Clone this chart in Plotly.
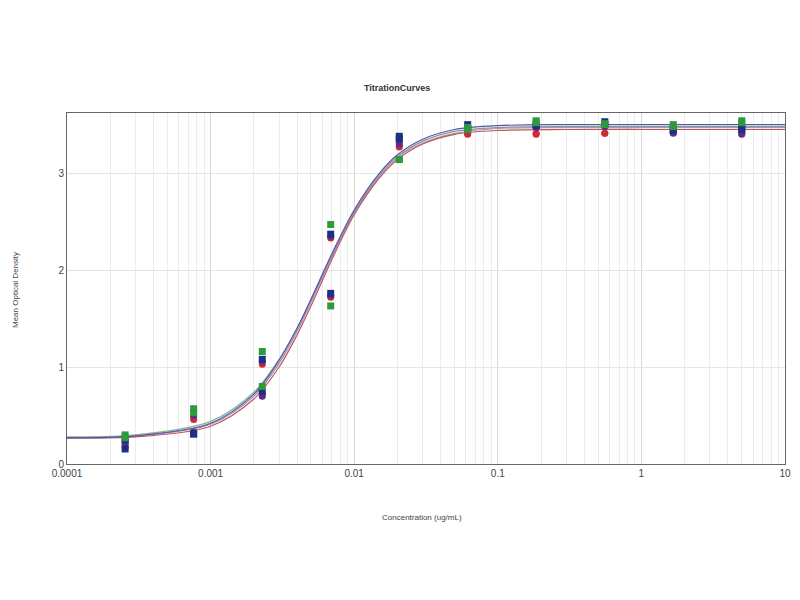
import plotly.graph_objects as go

# Concentrations (ug/mL)
conc = [0.000254, 0.000762, 0.00229, 0.00686, 0.0206, 0.0617, 0.185, 0.556, 1.667, 5.0]

# Observed points (two replicates per series)
red_a = [0.24, 0.46, 1.03, 2.33, 3.28, 3.40, 3.40, 3.41, 3.43, 3.43]
red_b = [0.20, 0.48, 0.72, 1.72, 3.27, 3.41, 3.41, 3.41, 3.42, 3.41]
purple_a = [0.22, 0.50, 1.06, 2.35, 3.33, 3.47, 3.48, 3.50, 3.41, 3.40]
purple_b = [0.17, 0.33, 0.70, 1.74, 3.30, 3.45, 3.47, 3.48, 3.42, 3.42]
navy_a = [0.25, 0.31, 1.08, 2.37, 3.38, 3.50, 3.50, 3.53, 3.46, 3.47]
navy_b = [0.155, 0.31, 0.75, 1.76, 3.35, 3.46, 3.49, 3.50, 3.44, 3.45]
green_a = [0.30, 0.57, 1.16, 2.47, 3.14, 3.47, 3.54, 3.51, 3.50, 3.54]
green_b = [0.27, 0.53, 0.80, 1.63, 3.14, 3.45, 3.52, 3.50, 3.48, 3.52]

# Fitted curves
fit_x = [0.0001, 0.0003, 0.001, 0.002, 0.003, 0.004, 0.005, 0.007, 0.01,
         0.015, 0.02, 0.03, 0.05, 0.1, 0.3, 1, 10]
fit_blue = [0.27, 0.29, 0.42, 0.72, 1.07, 1.40, 1.70, 2.17, 2.62, 3.00, 3.19, 3.35, 3.45, 3.49, 3.50, 3.50, 3.50]
fit_purple = [0.27, 0.29, 0.41, 0.70, 1.04, 1.37, 1.67, 2.14, 2.60, 2.98, 3.17, 3.33, 3.43, 3.47, 3.48, 3.48, 3.48]
fit_red = [0.27, 0.28, 0.39, 0.67, 1.00, 1.33, 1.63, 2.11, 2.57, 2.95, 3.14, 3.30, 3.40, 3.44, 3.45, 3.45, 3.45]
fit_green = [0.28, 0.30, 0.44, 0.74, 1.08, 1.40, 1.69, 2.15, 2.59, 2.97, 3.16, 3.31, 3.41, 3.46, 3.47, 3.47, 3.47]

x_ticks = [0.0001, 0.001, 0.01, 0.1, 1, 10]
x_tick_text = ["0.0001", "0.001", "0.01", "0.1", "1", "10"]
y_ticks = [0, 1, 2, 3]

RED = "#d0283a"
PURPLE = "#5b2d86"
NAVY = "#1f2f86"
GREEN = "#2f9a3c"
FONT = "Liberation Sans, Arial"

fig = go.Figure()

for ys, col in [(fit_green, "#8fb08f"), (fit_purple, "#9a8aa8"), (fit_red, "#c85060"), (fit_blue, "#4a5aa8")]:
    fig.add_trace(go.Scatter(x=fit_x, y=ys, mode="lines",
                             line=dict(color=col, width=1.2, shape="spline", smoothing=0.9),
                             hoverinfo="skip"))

for ys, col, sym in [(red_a, RED, "circle"), (red_b, RED, "circle"),
                     (purple_a, PURPLE, "circle"), (purple_b, PURPLE, "circle"),
                     (navy_a, NAVY, "square"), (navy_b, NAVY, "square"),
                     (green_a, GREEN, "square"), (green_b, GREEN, "square")]:
    fig.add_trace(go.Scatter(x=conc, y=ys, mode="markers",
                             marker=dict(color=col, symbol=sym, size=7, line=dict(width=0))))

# page body has an 8px margin: plot area on screen x 67-785, y 113-464
fig.update_layout(
    width=792, height=592,
    paper_bgcolor="white", plot_bgcolor="white",
    showlegend=False,
    margin=dict(l=59, r=15, t=105, b=136, autoexpand=False),
    font=dict(family=FONT, size=10, color="#444444"),
    annotations=[
        dict(text="<b>TitrationCurves</b>", xref="paper", yref="paper", x=(397 - 67) / 718, y=(464 - 88) / 351,
             xanchor="center", yanchor="middle", showarrow=False,
             font=dict(family=FONT, size=9, color="#333333")),
        dict(text="Concentration (ug/mL)", xref="paper", yref="paper", x=(422 - 67) / 718, y=-(517 - 464) / 351,
             xanchor="center", yanchor="middle", showarrow=False,
             font=dict(family=FONT, size=8, color="#444444")),
        dict(text="Mean Optical Density", xref="paper", yref="paper", x=-(67 - 15) / 718, y=(464 - 290) / 351,
             xanchor="center", yanchor="middle", showarrow=False, textangle=-90,
             font=dict(family=FONT, size=8, color="#444444")),
    ],
)

fig.update_xaxes(
    type="log", range=[-4, 1], automargin=False,
    tickvals=x_ticks, ticktext=x_tick_text,
    showgrid=True, gridcolor="#d8d8d8", gridwidth=1,
    minor=dict(dtick="D1", showgrid=True, gridcolor="#ececec", ticks=""),
    showline=True, linecolor="#666666", linewidth=1, mirror=True,
    ticks="", zeroline=False,
    tickfont=dict(size=10, color="#444444"),
)
fig.update_yaxes(
    range=[0, 3.62], automargin=False,
    tickvals=y_ticks,
    showgrid=True, gridcolor="#e4e4e4", gridwidth=1,
    showline=True, linecolor="#666666", linewidth=1, mirror=True,
    ticks="", zeroline=False,
    tickfont=dict(size=10, color="#444444"),
)

fig.write_html("out.html")
